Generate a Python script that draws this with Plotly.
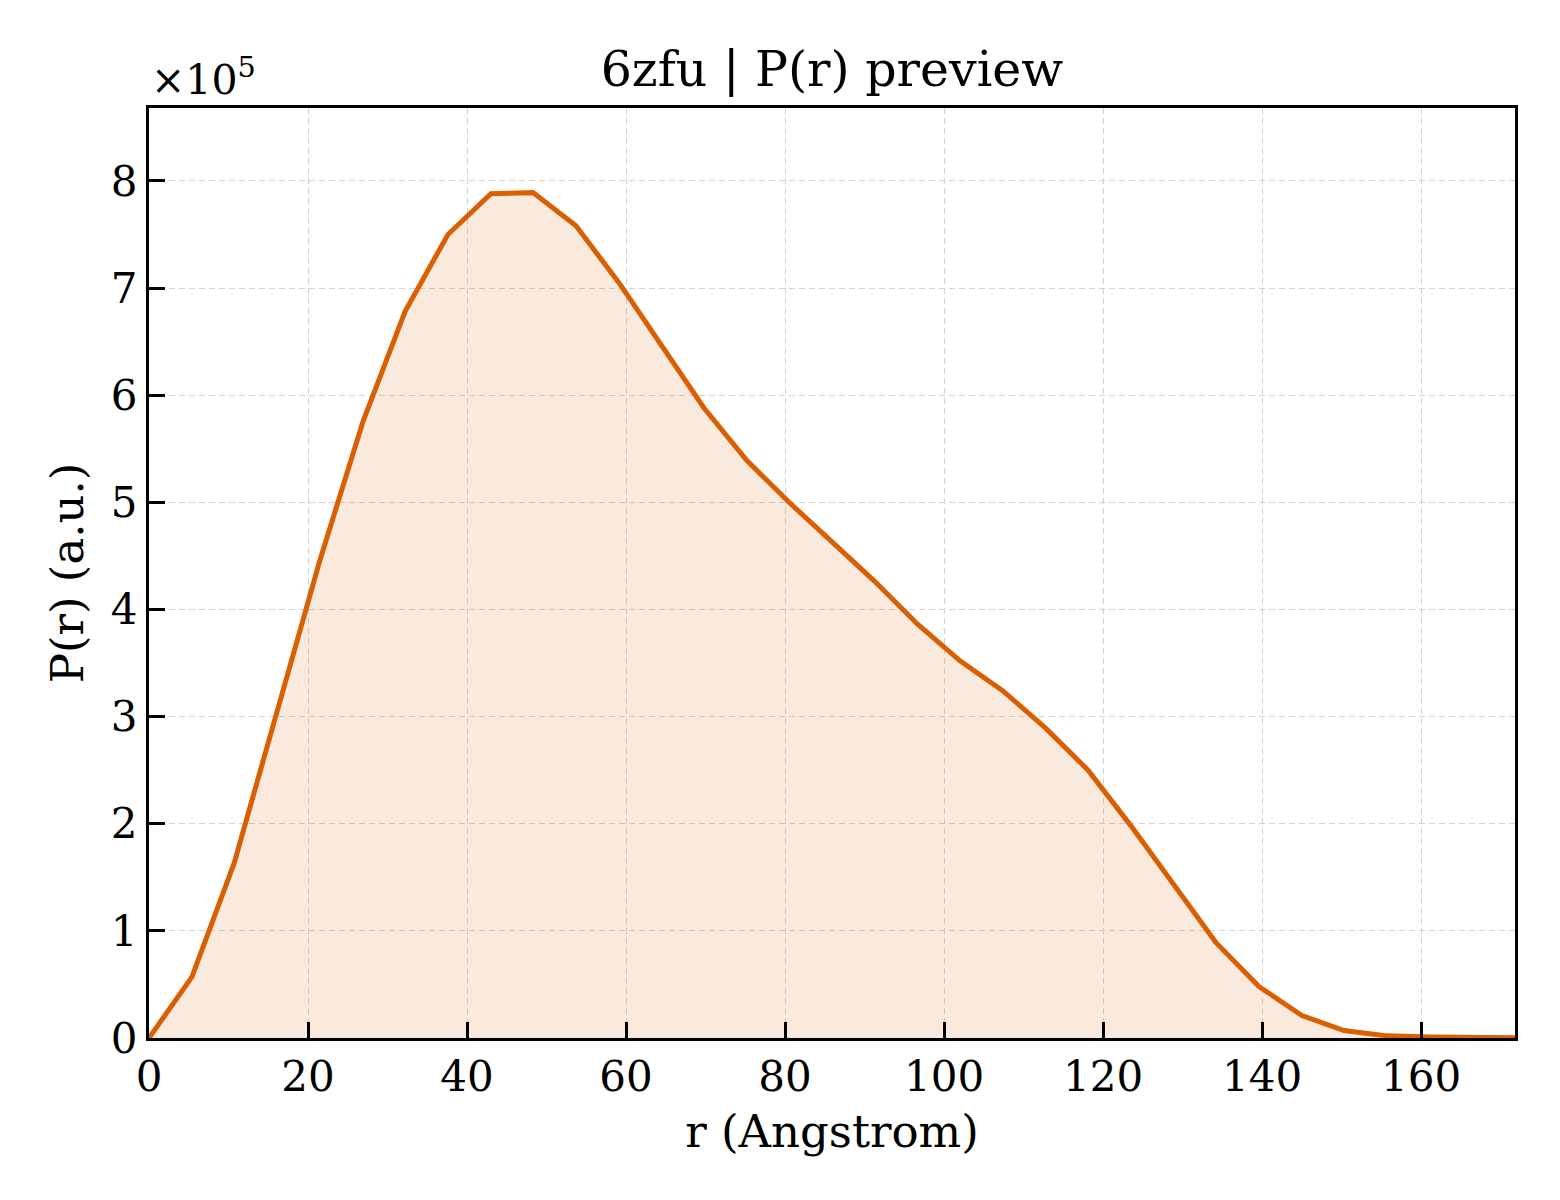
import plotly.graph_objects as go

# P(r) curve, r in Angstrom, P(r) in units of 1e5
r = [0.0, 5.4, 10.7, 16.1, 21.5, 26.9, 32.2, 37.6, 43.0, 48.3, 53.7, 59.1,
     64.4, 69.8, 75.2, 80.5, 85.9, 91.3, 96.7, 102.0, 107.4, 112.8, 118.1,
     123.5, 128.9, 134.2, 139.6, 145.0, 150.3, 155.7, 161.1, 166.5, 171.8]
pr_e5 = [0.0, 0.57, 1.63, 3.05, 4.46, 5.75, 6.78, 7.50, 7.88, 7.89, 7.58, 7.05,
         6.47, 5.88, 5.39, 5.00, 4.63, 4.26, 3.86, 3.52, 3.24, 2.89, 2.50,
         1.98, 1.43, 0.89, 0.48, 0.21, 0.07, 0.02, 0.01, 0.005, 0.003]

x_ticks = [0, 20, 40, 60, 80, 100, 120, 140, 160]
y_ticks = [0, 1, 2, 3, 4, 5, 6, 7, 8]

font_family = "DejaVu Serif"
line_color = "#D95F02"

fig = go.Figure()
fig.add_trace(go.Scatter(x=r, y=pr_e5, mode="lines", fill="tozeroy",
                         fillcolor="rgba(217,95,2,0.13)",
                         line=dict(color=line_color, width=5),
                         showlegend=False))

axis_style = dict(showline=True, linecolor="black", linewidth=3, mirror=True,
                  ticks="inside", ticklen=16, tickwidth=2.5, tickcolor="black",
                  showgrid=True, gridcolor="#d2d2d2", gridwidth=1.3, griddash="6px,4px",
                  zeroline=False, tickfont=dict(family=font_family, size=42, color="black"))

fig.update_xaxes(range=[0, 171.8], tickvals=x_ticks,
                 title=dict(text="r (Angstrom)", font=dict(family=font_family, size=45, color="black"),
                            standoff=16),
                 **axis_style)
fig.update_yaxes(range=[0, 8.68], tickvals=y_ticks,
                 title=dict(text="P(r) (a.u.)", font=dict(family=font_family, size=45, color="black"),
                            standoff=14),
                 **axis_style)

fig.add_annotation(text="×10<sup>5</sup>", xref="paper", yref="paper", x=0, y=1,
                   xanchor="left", yanchor="bottom", yshift=2, showarrow=False,
                   font=dict(family=font_family, size=41, color="black"))

fig.update_layout(
    width=1560, height=1200,
    margin=dict(l=141, r=53, t=100, b=170),
    paper_bgcolor="white", plot_bgcolor="white",
    title=dict(text="6zfu | P(r) preview", x=0.5, xref="paper", xanchor="center",
               y=1, yref="paper", yanchor="bottom", pad=dict(b=22),
               font=dict(family=font_family, size=49, color="black")),
)

fig.write_html("out.html")
